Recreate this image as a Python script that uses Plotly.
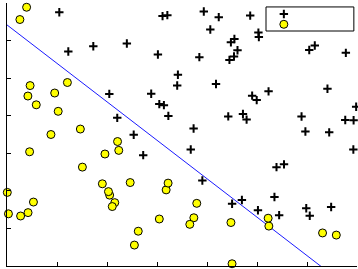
import plotly.graph_objects as go

# Exam scores (ex2data1): admitted (+) and not admitted (o)
adm_exam1 = [60.18, 79.03, 61.11, 75.02, 76.10, 84.43, 82.31, 69.36, 53.97, 69.07,
             70.66, 76.98, 89.68, 77.92, 62.27, 80.19, 61.38, 85.40, 52.05, 64.18,
             83.90, 94.44, 77.19, 97.77, 62.07, 91.56, 79.94, 99.27, 90.55, 97.65,
             74.25, 71.80, 75.40, 40.46, 80.28, 66.75, 64.04, 72.35, 60.46, 58.84,
             99.83, 47.26, 50.46, 88.91, 94.83, 67.32, 57.24, 80.37, 68.47, 75.48,
             78.64, 94.09, 90.45, 74.49, 89.85, 83.49, 42.26, 99.32, 55.34, 74.78]
adm_exam2 = [86.31, 75.34, 96.51, 46.55, 87.42, 43.53, 76.48, 97.72, 89.21, 52.74,
             92.93, 47.58, 65.80, 68.97, 69.95, 44.82, 72.81, 57.05, 69.43, 80.91,
             56.31, 65.57, 70.46, 86.73, 96.77, 88.70, 74.16, 61.00, 43.39, 68.86,
             69.82, 78.45, 85.76, 97.54, 92.12, 60.99, 78.03, 96.23, 73.09, 75.86,
             72.37, 88.48, 75.81, 69.80, 45.69, 66.59, 59.51, 90.96, 85.59, 90.42,
             96.65, 77.16, 87.51, 84.85, 45.36, 48.38, 87.10, 68.78, 64.93, 89.53]
not_exam1 = [34.62, 30.29, 35.85, 45.08, 95.86, 75.01, 39.54, 67.95, 67.37, 50.53,
             34.21, 93.11, 61.83, 38.79, 52.11, 40.24, 54.64, 33.92, 74.79, 34.18,
             51.55, 82.37, 51.05, 62.22, 34.52, 50.29, 49.59, 32.58, 35.29, 56.25,
             30.06, 44.67, 66.56, 49.07, 32.72, 60.46, 82.23, 42.08, 52.35, 55.48]
not_exam2 = [78.02, 43.89, 72.90, 56.32, 38.23, 30.60, 76.04, 46.68, 42.84, 48.86,
             44.21, 38.80, 50.26, 65.00, 63.13, 71.17, 52.21, 98.87, 41.57, 75.24,
             46.86, 40.62, 45.82, 52.06, 60.40, 49.80, 59.81, 95.60, 47.02, 39.26,
             49.59, 66.45, 41.09, 51.88, 43.31, 42.51, 42.72, 78.84, 60.77, 35.57]

# Decision boundary endpoints (from fitted logistic regression)
boundary_x = [28.06, 101.83]
boundary_y = [96.15, 20.66]

ticks = [30, 40, 50, 60, 70, 80, 90, 100]

plus_marker = dict(symbol="cross-thin", size=6, color="black",
                   line=dict(color="black", width=2))
circle_marker = dict(symbol="circle", size=8, color="#ffff00",
                     line=dict(color="black", width=1))

fig = go.Figure()
fig.add_trace(go.Scatter(x=boundary_x, y=boundary_y, mode="lines",
                         line=dict(color="#1a1aff", width=1), showlegend=False,
                         hoverinfo="skip"))
fig.add_trace(go.Scatter(x=adm_exam1, y=adm_exam2, mode="markers", cliponaxis=False,
                         marker=plus_marker, showlegend=False))
fig.add_trace(go.Scatter(x=not_exam1, y=not_exam2, mode="markers", cliponaxis=False,
                         marker=circle_marker, showlegend=False))

# Legend (box + swatches, no text as in the reference)
fig.add_shape(type="rect", xref="paper", yref="paper", x0=0.74, x1=0.991,
              y0=0.8935, y1=0.985, line=dict(color="black", width=1),
              fillcolor="white", layer="below")
fig.add_trace(go.Scatter(x=[0.791], y=[0.958], xaxis="x2", yaxis="y2", mode="markers",
                         cliponaxis=False, marker=plus_marker, showlegend=False))
fig.add_trace(go.Scatter(x=[0.791], y=[0.919], xaxis="x2", yaxis="y2", mode="markers",
                         cliponaxis=False, marker=circle_marker, showlegend=False))

axis_common = dict(showline=True, linecolor="black", linewidth=1, ticks="inside",
                   ticklen=4, tickwidth=1, tickcolor="black", showticklabels=False,
                   showgrid=False, zeroline=False, tickvals=ticks)
fig.update_layout(
    width=358, height=269,
    margin=dict(l=7, r=1, t=3, b=3),
    paper_bgcolor="white", plot_bgcolor="white",
    xaxis=dict(range=[30, 100], **axis_common),
    yaxis=dict(range=[30, 100], **axis_common),
    xaxis2=dict(range=[0, 1], overlaying="x", visible=False),
    yaxis2=dict(range=[0, 1], overlaying="y", visible=False),
    showlegend=False,
)
fig.write_html("out.html")
